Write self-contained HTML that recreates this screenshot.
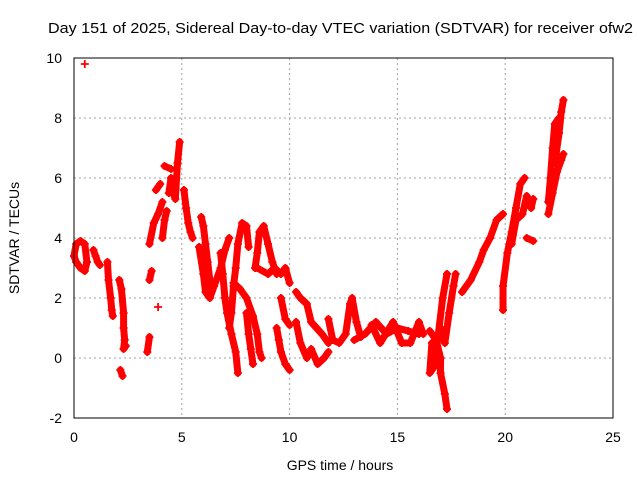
<!DOCTYPE html>
<html><head><meta charset="utf-8"><style>
body{margin:0;background:#fff}
svg{display:block;font-family:"Liberation Sans",sans-serif}
</style></head><body>
<svg id="chart" width="640" height="480" viewBox="0 0 640 480">
<rect width="640" height="480" fill="#fff"/>
<text x="48" y="33" font-size="15" textLength="585" lengthAdjust="spacingAndGlyphs">Day 151 of 2025, Sidereal Day-to-day VTEC variation (SDTVAR) for receiver ofw2</text>
<g id="grid"></g><g id="ticks"></g><g id="marks"></g>
<rect x="74" y="58" width="539" height="360" fill="none" stroke="#000" stroke-width="1"/>
<text transform="translate(19,238) rotate(-90)" text-anchor="middle" font-size="14">SDTVAR / TECUs</text>
<text x="340" y="470" text-anchor="middle" font-size="14">GPS time / hours</text>
</svg>
<script>
const xTicks=[0,5,10,15,20,25];
const yTicks=[-2,0,2,4,6,8,10];
const tracks=[
 [[0,0.1,0.3,0.5,0.6,0.5,0.3,0.1,0],[3.4,3.8,3.9,3.8,3.2,2.9,3.0,3.2,3.4]],
 [[0.5],[9.8]],
 [[0.9,1.0,1.1,1.2],[3.6,3.4,3.2,3.1]],
 [[1.55,1.6,1.7,1.75,1.8],[3.2,2.6,2.0,1.6,1.4]],
 [[2.1,2.2,2.3,2.3,2.35,2.3,2.4],[2.6,2.3,1.5,1.0,0.6,0.3,0.4]],
 [[2.15,2.25],[-0.4,-0.6]],
 [[3.4,3.5],[0.2,0.7]],
 [[3.5,3.6],[2.6,2.9]],
 [[3.5,3.7,3.9,4.1],[3.8,4.5,4.8,5.2]],
 [[3.9],[1.7]],
 [[3.8,4.0],[5.6,5.8]],
 [[4.1,4.2,4.3],[4.0,4.6,4.9]],
 [[4.2,4.5],[6.4,6.3]],
 [[4.4,4.5,4.6,4.7,4.8,4.9],[5.5,6.0,5.5,5.3,6.5,7.2]],
 [[5.1,5.2,5.3,5.4,5.5],[5.6,5.0,4.5,4.2,4.0]],
 [[5.9,6.0,6.1,6.2,6.3,6.4],[4.7,4.4,3.8,3.2,2.6,2.3]],
 [[5.8,6.0,6.1,6.3,6.5,6.8,7.0,7.2],[3.7,2.8,2.2,2.0,2.4,3.0,3.6,4.0]],
 [[6.8,6.9,7.0,7.1,7.3,7.5,7.6],[3.5,2.8,2.0,1.5,0.8,0.2,-0.5]],
 [[7.2,7.3,7.4,7.5,7.6,7.8,8.0,8.1],[1.0,1.5,2.4,3.0,3.8,4.5,4.4,3.7]],
 [[7.4,7.7,8.0,8.3,8.5,8.6,8.7],[2.5,2.3,2.0,1.4,0.8,0.2,0.0]],
 [[8.0,8.1,8.2,8.3],[1.5,0.8,0.3,-0.2]],
 [[8.4,8.5,8.6,8.8,9.0,9.2,9.4],[3.0,3.5,4.2,4.4,3.8,3.2,2.8]],
 [[8.5,9.0,9.3,9.6,9.8,10.0],[3.0,2.8,3.0,2.8,3.0,2.5]],
 [[9.4,9.5,9.6,9.8,10.0],[1.0,0.6,0.2,-0.2,-0.4]],
 [[9.6,9.8,10.0],[2.0,1.3,1.1]],
 [[10.3,10.5,10.8,11.0,11.5,11.8],[2.2,2.0,1.8,1.2,0.8,0.5]],
 [[10.3,10.5,10.8,11.0,11.3,11.6,11.8],[1.2,0.5,0.0,0.3,-0.2,0.0,0.2]],
 [[11.8,12.0,12.3,12.6,12.8,12.9,13.1,13.3],[1.3,0.6,0.5,0.8,1.8,2.0,1.2,0.7]],
 [[13.0,13.5,14.0,14.5,15.0,15.5,16.0],[0.6,0.8,1.2,0.8,1.0,0.9,0.8]],
 [[13.8,14.2,14.8,15.2,15.6,16.0,16.2],[1.1,0.5,1.2,0.5,0.5,1.2,0.8]],
 [[16.5,16.8,17.0,17.0,17.2,17.3],[0.9,0.6,0.0,-0.5,-1.2,-1.7]],
 [[16.6,16.5,16.7,16.9,17.1,17.3],[0.5,-0.5,-0.3,0.8,2.0,2.8]],
 [[17.0,17.2,17.4,17.6,17.7],[1.0,0.5,1.5,2.4,2.8]],
 [[18.0,18.4,18.8,19.0,19.3,19.6,19.9],[2.2,2.6,3.2,3.6,4.0,4.6,4.8]],
 [[19.9,19.9,20.1,20.3,20.5,20.7,20.9],[1.6,2.4,3.5,4.2,5.0,5.8,6.0]],
 [[20.3,20.5,20.8,21.0,21.2,21.3],[3.8,4.6,4.8,5.4,5.0,5.3]],
 [[21.0,21.3],[4.0,3.9]],
 [[22.0,22.1,22.2,22.3,22.5],[5.2,6.0,7.0,7.8,8.0]],
 [[22.0,22.2,22.4,22.6,22.7],[4.8,5.5,6.2,6.6,6.8]],
 [[22.3,22.5,22.6,22.7],[6.5,7.5,8.2,8.6]]
];
const X=t=>74+t*539/25, Y=v=>358-v*30;
const NS='http://www.w3.org/2000/svg';
const grid=document.getElementById('grid'),ticks=document.getElementById('ticks'),marks=document.getElementById('marks');
function mk(tag,attrs,parent){const e=document.createElementNS(NS,tag);for(const k in attrs)e.setAttribute(k,attrs[k]);parent.appendChild(e);return e;}
xTicks.forEach(t=>{
 const l=mk('line',{x1:X(t),x2:X(t),y1:58,y2:418,stroke:'#a0a0a0','stroke-dasharray':'2,3'},grid);
 
 
 const tx=mk('text',{x:X(t),y:442,'text-anchor':'middle','font-size':'14'},ticks);tx.textContent=t;
 
 
});
yTicks.forEach(v=>{
 const l=mk('line',{x1:74,x2:613,y1:Y(v),y2:Y(v),stroke:'#a0a0a0','stroke-dasharray':'2,3'},grid);
 
 
 const tx=mk('text',{x:62,y:Y(v)+5,'text-anchor':'end','font-size':'14'},ticks);tx.textContent=v;
 
 
});
tracks.forEach(([ts,vs])=>{
 if(ts.length>1){
  const pl=mk('polyline',{points:ts.map((t,i)=>X(t)+','+Y(vs[i])).join(' '),fill:'none',stroke:'#f00','stroke-width':'7','stroke-linejoin':'round','stroke-linecap':'round'},marks);
  
  
 }
 ts.forEach((t,i)=>{
  const x=X(t),y=Y(vs[i]);
  const p=mk('path',{d:`M${x-4} ${y}H${x+4}M${x} ${y-4}V${y+4}`,stroke:'#f00','stroke-width':'1.8'},marks);
  
  
 });
});
</script>
</body></html>
